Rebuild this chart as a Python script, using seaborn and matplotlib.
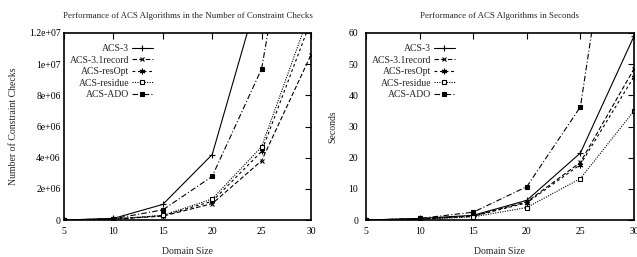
import matplotlib
matplotlib.use("Agg")
import matplotlib.pyplot as plt
import seaborn as sns
import pandas as pd

sns.set_theme(style="white")
plt.rcParams["font.family"] = ["Liberation Serif", "DejaVu Serif"]

domain_size = [5, 10, 15, 20, 25, 30]
algorithms = ["ACS-3", "ACS-3.1record", "ACS-resOpt", "ACS-residue", "ACS-ADO"]

# constraint checks
checks = {
    "ACS-3": [0, 0.10e6, 1.0e6, 4.2e6, 15.2e6, 40e6],
    "ACS-3.1record": [0, 0.05e6, 0.25e6, 1.05e6, 3.8e6, 10.6e6],
    "ACS-resOpt": [0, 0.06e6, 0.28e6, 1.2e6, 4.4e6, 12.8e6],
    "ACS-residue": [0, 0.06e6, 0.30e6, 1.35e6, 4.7e6, 13.5e6],
    "ACS-ADO": [0, 0.08e6, 0.65e6, 2.8e6, 9.7e6, 28e6],
}

# seconds
seconds = {
    "ACS-3": [0, 0.5, 1.5, 6.3, 21.5, 59],
    "ACS-3.1record": [0, 0.3, 1.3, 5.8, 18.5, 48.5],
    "ACS-resOpt": [0, 0.3, 1.2, 5.5, 17.8, 46],
    "ACS-residue": [0, 0.2, 1.0, 4.0, 13.3, 35],
    "ACS-ADO": [0, 0.5, 2.5, 10.7, 36.3, 150],
}

checks_ticks = [0, 2e6, 4e6, 6e6, 8e6, 1e7, 1.2e7]
checks_labels = ["0", "2e+06", "4e+06", "6e+06", "8e+06", "1e+07", "1.2e+07"]
seconds_ticks = [0, 10, 20, 30, 40, 50, 60]

styles = {
    "ACS-3": dict(marker="+", linestyle="-", ms=5),
    "ACS-3.1record": dict(marker="x", linestyle=(0, (4, 2)), ms=3.5),
    "ACS-resOpt": dict(marker=(6, 2, 0), linestyle=(0, (2.5, 2.5)), ms=4),
    "ACS-residue": dict(marker="s", linestyle=(0, (1, 1.2)), ms=3.5, mfc="white"),
    "ACS-ADO": dict(marker="s", linestyle=(0, (5, 2, 1, 2)), ms=3.2),
}

fig = plt.figure(figsize=(6.37, 2.57), dpi=100)
ax1 = fig.add_axes([64 / 637, 1 - 220 / 257, 247 / 637, 187 / 257])
ax2 = fig.add_axes([366 / 637, 1 - 220 / 257, 268 / 637, 187 / 257])


def draw(ax, data, title, ylabel, ymax, yticks, ylabels, ypad):
    for name in algorithms:
        df = pd.DataFrame({"x": domain_size, "y": data[name]})
        sns.lineplot(data=df, x="x", y="y", ax=ax, color="black", lw=0.8,
                     mew=0.8, mec="black", label=name, **styles[name])
    ax.set_xlim(5, 30)
    ax.set_ylim(0, ymax)
    ax.set_xticks(domain_size)
    ax.set_yticks(yticks)
    ax.set_yticklabels(ylabels)
    ax.tick_params(direction="in", length=4, width=0.8, labelsize=7,
                   top=True, right=True, colors="black")
    ax.tick_params(axis="x", pad=5)
    ax.tick_params(axis="y", pad=ypad)
    for s in ax.spines.values():
        s.set_color("black")
        s.set_linewidth(1.2)
    ax.set_title(title, fontsize=6.4, pad=11)
    ax.set_xlabel("Domain Size", fontsize=7, labelpad=8)
    ax.set_ylabel(ylabel, fontsize=7, labelpad=8)
    ax.legend(loc="upper left", frameon=False, markerfirst=False, fontsize=7,
              handlelength=2.1, handletextpad=0.3, labelspacing=0.25,
              borderaxespad=0.2, bbox_to_anchor=(0.0, 0.97))


draw(ax1, checks, "Performance of ACS Algorithms in the Number of Constraint Checks",
     "Number of Constraint Checks", 1.2e7, checks_ticks, checks_labels, 2.5)
draw(ax2, seconds, "Performance of ACS Algorithms in Seconds", "Seconds", 60,
     seconds_ticks, [str(t) for t in seconds_ticks], 5.5)

fig.savefig("out.png", dpi=100)
